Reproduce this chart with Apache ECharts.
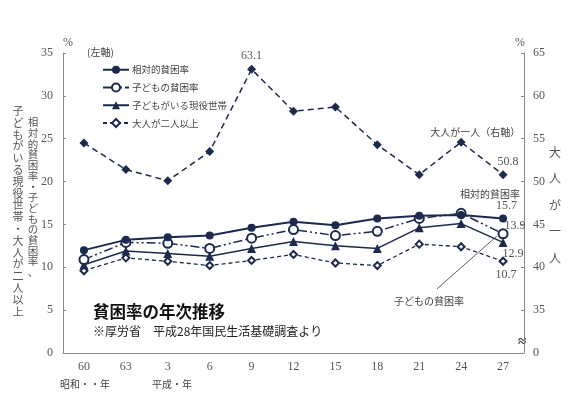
<!DOCTYPE html>
<html><head><meta charset="utf-8">
<script src="https://cdn.jsdelivr.net/npm/echarts@6/dist/echarts.min.js"></script>
<style>html,body{margin:0;padding:0;background:#fff}#c{width:575px;height:394px}</style>
</head><body><div id="c"></div>
<script>
const categories = ['60','63','3','6','9','12','15','18','21','24','27'];
const relativePoverty = [12.0,13.2,13.5,13.7,14.6,15.3,14.9,15.7,16.0,16.1,15.7];
const childPoverty = [10.9,12.9,12.8,12.2,13.4,14.4,13.7,14.2,15.7,16.3,13.9];
const householdsWithChildren = [10.3,11.9,11.6,11.3,12.2,13.0,12.5,12.2,14.6,15.1,12.9];
const twoOrMoreAdults = [9.6,11.1,10.7,10.2,10.8,11.5,10.5,10.2,12.7,12.4,10.7];
const singleAdult = [54.5,51.4,50.1,53.5,63.1,58.2,58.7,54.3,50.8,54.6,50.8];
const seriesNames = ['相対的貧困率','子どもの貧困率','子どもがいる現役世帯','大人が二人以上','大人が一人'];

const NAVY = '#1b2a4d';
const GRAY = '#8a8a8a';
const TXT = '#555';
const SERIF = "'Liberation Serif','Noto Sans CJK JP',serif";
const CJK = "'Noto Sans CJK JP','Noto Sans',sans-serif";

function withLabels(values, labels) {
  return values.map((v, i) => labels[i] ? { value: v, label: Object.assign({ show: true }, labels[i]) } : v);
}
function lbl(dx, dy, extra) {
  return Object.assign({
    position: 'inside', align: 'center', verticalAlign: 'middle', offset: [dx, dy],
    color: TXT, fontFamily: SERIF, fontSize: 12, textBorderWidth: 0
  }, extra || {});
}
function vertical(s) { return s.split('').join('\n'); }

const chart = echarts.init(document.getElementById('c'), null, { renderer: 'canvas' });
const option = {
  animation: false,
  backgroundColor: '#fff',
  grid: { left: 63, right: 51, top: 53, bottom: 41, containLabel: false },
  legend: {
    data: seriesNames.slice(0, 4),
    orient: 'vertical', left: 97, top: 60,
    itemWidth: 26, itemHeight: 10, itemGap: 8,
    textStyle: { fontFamily: CJK, fontSize: 9.5, color: '#444', padding: [0, 0, 0, -2] },
    selectedMode: false
  },
  xAxis: {
    type: 'category', data: categories, boundaryGap: true,
    axisLine: { lineStyle: { color: GRAY, width: 1 } },
    axisTick: { inside: true, length: 3, lineStyle: { color: GRAY } },
    axisLabel: { color: TXT, fontFamily: SERIF, fontSize: 12, margin: 8 }
  },
  yAxis: [
    {
      type: 'value', min: 0, max: 35, interval: 5,
      name: '%', nameLocation: 'end', nameGap: 4,
      nameTextStyle: { color: TXT, fontFamily: SERIF, fontSize: 12, padding: [0, 0, 0, 10] },
      axisLine: { show: true, lineStyle: { color: GRAY } },
      axisTick: { show: true, inside: true, length: 3, lineStyle: { color: GRAY } },
      axisLabel: { color: TXT, fontFamily: SERIF, fontSize: 12, margin: 10 },
      splitLine: { show: false }
    },
    {
      type: 'value', min: 30, max: 65, interval: 5, position: 'right',
      name: '%', nameLocation: 'end', nameGap: 4,
      nameTextStyle: { color: TXT, fontFamily: SERIF, fontSize: 12, padding: [0, 8, 0, 0] },
      axisLine: { show: true, lineStyle: { color: GRAY } },
      axisTick: { show: true, inside: true, length: 3, lineStyle: { color: GRAY } },
      axisLabel: { color: TXT, fontFamily: SERIF, fontSize: 12, margin: 9,
        formatter: v => (v === 30 ? '0' : String(v)) },
      splitLine: { show: false }
    }
  ],
  series: [
    {
      name: seriesNames[0], type: 'line', yAxisIndex: 0,
      symbol: 'circle', symbolSize: 8,
      lineStyle: { color: NAVY, width: 2 }, itemStyle: { color: NAVY },
      data: withLabels(relativePoverty, {
        10: lbl(17, -7, {
          align: 'right', verticalAlign: 'bottom',
          formatter: '{a|相対的貧困率}\n{b|15.7}',
          rich: {
            a: { fontFamily: CJK, fontSize: 10, color: '#444', align: 'right', lineHeight: 11 },
            b: { fontFamily: SERIF, fontSize: 12, color: TXT, align: 'right', lineHeight: 12, padding: [0, 3, 0, 0] }
          }
        })
      }),
      z: 5
    },
    {
      name: seriesNames[1], type: 'line', yAxisIndex: 0,
      symbol: 'emptyCircle', symbolSize: 9,
      lineStyle: { color: NAVY, width: 1.5, type: [9, 3, 2, 3, 2, 3] },
      itemStyle: { color: NAVY, borderWidth: 1.8 },
      data: withLabels(childPoverty, { 10: lbl(12, -8) }),
      z: 4
    },
    {
      name: seriesNames[2], type: 'line', yAxisIndex: 0,
      symbol: 'triangle', symbolSize: 9,
      lineStyle: { color: NAVY, width: 1.5 }, itemStyle: { color: NAVY },
      data: withLabels(householdsWithChildren, { 10: lbl(10, 11) }),
      z: 3
    },
    {
      name: seriesNames[3], type: 'line', yAxisIndex: 0,
      symbol: 'emptyDiamond', symbolSize: 7,
      lineStyle: { color: NAVY, width: 1.3, type: [4, 3] },
      itemStyle: { color: NAVY, borderWidth: 1.3 },
      data: withLabels(twoOrMoreAdults, { 10: lbl(3, 14) }),
      z: 2
    },
    {
      name: seriesNames[4], type: 'line', yAxisIndex: 1,
      symbol: 'diamond', symbolSize: 9,
      lineStyle: { color: NAVY, width: 1.5, type: [6, 4] }, itemStyle: { color: NAVY },
      data: withLabels(singleAdult, {
        4: lbl(0, -13),
        9: lbl(59, -10, { align: 'right', fontFamily: CJK, fontSize: 10, color: '#444', formatter: '大人が一人（右軸）' }),
        10: lbl(5, -13)
      }),
      z: 2
    }
  ]
};
chart.setOption(option);

const p = chart.convertToPixel({ gridIndex: 0 }, [10, childPoverty[10]]);
chart.setOption({
  graphic: [
    { type: 'text', left: 87, top: 47, style: { text: '(左軸)', font: '10px ' + CJK, fill: '#444' } },
    { type: 'text', x: 33, y: 117, style: { text: vertical('相対的貧困率・子どもの貧困率、'), font: '10.5px ' + CJK, fill: '#555', align: 'center', lineHeight: 10.7 } },
    { type: 'text', x: 18, y: 105, style: { text: vertical('子どもがいる現役世帯・大人が二人以上'), font: '11px ' + CJK, fill: '#555', align: 'center', lineHeight: 11.8 } },
    { type: 'text', x: 555, y: 139, style: { text: vertical('大人が一人'), font: '12px ' + CJK, fill: '#555', align: 'center', lineHeight: 26.5 } },
    { type: 'text', x: 93, y: 303, style: { text: '貧困率の年次推移', font: 'bold 16.5px ' + CJK, fill: '#111' } },
    { type: 'text', x: 93, y: 325, style: { text: '※厚労省　平成28年国民生活基礎調査より', font: '12px ' + CJK, fill: '#222' } },
    { type: 'text', x: 60, y: 379, style: { text: '昭和・・年', font: '10px ' + CJK, fill: '#444' } },
    { type: 'text', x: 152, y: 379, style: { text: '平成・年', font: '10px ' + CJK, fill: '#444' } },
    { type: 'text', x: 522, y: 342, style: { text: '≈', font: 'bold 15px ' + SERIF, fill: '#333', align: 'center', verticalAlign: 'middle', backgroundColor: '#fff' } },
    { type: 'line', shape: { x1: p[0] - 66, y1: p[1] + 55, x2: p[0] - 6, y2: p[1] + 2 }, style: { stroke: '#333', lineWidth: 0.8 } },
    { type: 'text', x: p[0] - 74, y: p[1] + 67, style: { text: '子どもの貧困率', font: '10px ' + CJK, fill: '#444', align: 'center', verticalAlign: 'middle' } }
  ]
});
</script>
</body></html>
